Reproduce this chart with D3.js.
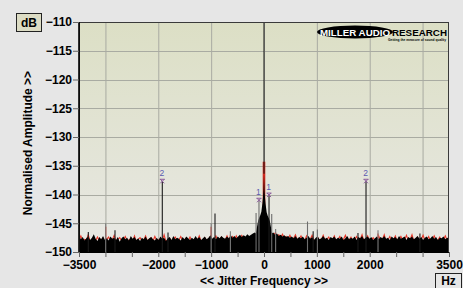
<!DOCTYPE html>
<html><head><meta charset="utf-8">
<script src="https://cdn.jsdelivr.net/npm/d3@7"></script>
<style>
html,body{margin:0;padding:0;background:#e6e6e6;}
svg{display:block;}
text{font-family:"Liberation Sans",Arial,sans-serif;}
</style></head>
<body>
<svg id="c" width="463" height="288"></svg>
<script>
// ---- data ----
const xTicks = [-3500,-3000,-2500,-2000,-1500,-1000,-500,0,500,1000,1500,2000,2500,3000,3500];
const xTickLabels = [-3500,-2000,-1000,0,1000,2000,3500];
const xGrid = [-3000,-2000,-1000,0,1000,2000,3000];
const yTicks = [-110,-115,-120,-125,-130,-135,-140,-145,-150];
const noiseStartHz = -3500, noiseStepHz = 35;
const blackNoise = [
-147.1,-147.8,-147.4,-148.0,-147.6,-147.3,-147.9,-147.5,-146.9,-147.7,-148.1,-147.4,-147.8,-147.2,-147.9,-147.6,-148.0,-147.3,-147.7,-147.5,
-147.9,-147.4,-148.2,-147.6,-147.3,-147.8,-147.5,-148.0,-147.2,-147.7,-147.4,-147.9,-147.6,-148.1,-147.5,-147.8,-147.3,-147.9,-147.6,-147.4,
-147.8,-148.0,-147.5,-147.9,-147.3,-147.7,-147.5,-148.1,-147.6,-147.4,-147.9,-147.2,-147.8,-147.5,-147.7,-148.0,-147.4,-147.8,-147.3,-147.6,
-147.9,-147.5,-147.8,-147.2,-147.7,-147.4,-147.9,-147.6,-147.3,-147.8,-147.5,-147.1,-147.7,-147.4,-147.8,-147.3,-147.6,-147.2,-147.5,-147.7,
-147.3,-147.6,-147.1,-147.5,-147.2,-147.6,-147.3,-147.0,-147.4,-147.1,-147.3,-146.9,-147.2,-147.0,-146.8,-146.6,-146.9,-146.4,-146.0,-145.5,
-145.0,
-145.6,-146.1,-146.5,-146.8,-146.6,-147.0,-146.8,-147.2,-147.0,-147.3,-147.1,-147.4,-147.2,-147.5,-147.3,-147.6,-147.2,-147.7,-147.4,-147.6,
-147.3,-147.8,-147.5,-147.2,-147.7,-147.4,-147.9,-147.5,-147.3,-147.8,-147.6,-147.2,-147.7,-147.5,-147.9,-147.4,-147.6,-147.3,-147.8,-147.5,
-147.7,-147.3,-147.9,-147.6,-147.2,-147.8,-147.5,-147.7,-147.3,-147.9,-147.4,-147.6,-147.2,-147.8,-147.5,-147.3,-147.7,-147.4,-147.9,-147.6,
-147.3,-147.8,-147.4,-147.6,-147.2,-147.7,-147.5,-147.9,-147.3,-147.6,-147.4,-147.8,-147.2,-147.7,-147.5,-147.3,-147.9,-147.4,-147.6,-147.3,
-147.8,-147.5,-147.2,-147.7,-147.4,-147.9,-147.5,-147.3,-147.8,-147.6,-147.2,-147.7,-147.4,-147.9,-147.5,-147.6,-147.3,-147.8,-147.5,-147.6
];
const redNoise = [
-147.9,-147.2,-148.0,-147.8,-147.9,-147.0,-148.1,-147.9,-147.6,-148.0,-147.4,-148.1,-147.9,-147.6,-148.2,-147.8,-147.4,-148.0,-147.9,-147.1,
-148.1,-147.8,-147.5,-148.0,-147.9,-147.3,-148.0,-147.9,-147.7,-148.1,-147.2,-148.2,-147.8,-147.5,-148.0,-147.9,-147.2,-148.1,-147.8,-147.5,
-148.1,-147.3,-148.0,-147.9,-147.7,-148.1,-147.0,-148.2,-147.9,-147.6,-148.1,-147.8,-147.4,-148.0,-147.9,-147.3,-148.0,-147.9,-147.6,-148.1,
-147.4,-148.1,-147.9,-147.6,-148.0,-147.2,-148.1,-147.9,-147.5,-148.0,-147.8,-147.3,-148.0,-147.9,-147.2,-148.0,-147.8,-147.4,-148.0,-147.9,
-147.2,-148.0,-147.8,-147.3,-147.9,-147.2,-147.9,-147.6,-147.1,-147.8,-147.5,-147.3,-147.7,-147.4,-147.1,-147.0,-146.8,-146.6,-146.2,-145.8,
-145.3,
-145.9,-146.2,-146.3,-146.9,-147.0,-146.7,-147.2,-147.0,-147.5,-146.9,-147.6,-147.3,-147.7,-147.1,-147.8,-147.6,-147.0,-147.9,-147.7,-147.2,
-147.9,-148.0,-147.2,-147.9,-147.8,-147.1,-148.0,-147.9,-147.4,-148.1,-147.9,-147.1,-148.0,-147.8,-147.4,-148.0,-147.9,-147.2,-148.1,-147.8,
-147.3,-148.0,-147.8,-147.1,-148.0,-147.9,-147.4,-148.1,-147.9,-147.3,-148.0,-147.8,-147.0,-148.1,-147.9,-147.2,-148.0,-147.9,-147.5,-148.0,
-147.9,-147.2,-148.0,-147.8,-147.0,-148.1,-147.9,-147.3,-148.0,-147.9,-147.2,-148.1,-147.8,-147.3,-148.0,-147.9,-147.1,-148.0,-147.8,-147.0,
-148.1,-147.9,-147.4,-148.0,-147.8,-147.1,-148.0,-147.9,-147.3,-148.1,-147.8,-147.2,-148.0,-147.9,-147.4,-148.1,-147.8,-147.2,-148.0,-147.9
];
const skirtHz = [-170,-150,-130,-110,-90,-70,-50,-30,-20,-10,0,10,20,30,50,70,90,110,130,150,170];
const skirtDb = [-147.3,-146.5,-145.5,-144.5,-144.0,-143.6,-143.0,-141.5,-140.5,-139.0,-136.5,-139.2,-140.6,-141.6,-143.1,-143.7,-144.1,-144.6,-145.6,-146.6,-147.4];
const spikeHz    = [-3324,-2995,-2819,-1924,-1816,-1000,-927,-636,-150,-95,95,146,220,823,930,1010,1778,1930,2157,2950];
const spikeDb    = [-146.5,-145.6,-146.2,-137.7,-146.6,-145.6,-143.3,-147.0,-143.2,-141.0,-140.1,-143.4,-146.6,-144.7,-146.4,-146.1,-146.7,-137.7,-146.8,-146.8];
const spikeTone  = ["k","r","k","k","k","r","k","r","g","g","k","g","r","g","k","g","k","k","r","k"];
const carrierHz = 0, carrierTopDb = -110, carrierRedDb = -134.3;
const markerHz = [-1924,1930,-95,95];
const markerDb = [-137.7,-137.7,-141.0,-140.1];
const markerLabel = ["2","2","1","1"];

// ---- layout ----
const svg = d3.select("#c");
const L=79, R=449, T=22, B=252;
const x = d3.scaleLinear().domain([-3500,3500]).range([L,R]);
const y = d3.scaleLinear().domain([-150,-110]).range([B,T]);

const defs = svg.append("defs");
const g1 = defs.append("linearGradient").attr("id","bg").attr("x1",0).attr("y1",0).attr("x2",0).attr("y2",1);
g1.append("stop").attr("offset","0%").attr("stop-color","#dcdfc5");
g1.append("stop").attr("offset","100%").attr("stop-color","#e8e8e4");
defs.append("clipPath").attr("id","clip").append("rect").attr("x",L).attr("y",T).attr("width",R-L).attr("height",B-T);

svg.append("rect").attr("width",463).attr("height",288).attr("fill","#e6e6e6");
svg.append("rect").attr("x",L).attr("y",T).attr("width",R-L).attr("height",B-T).attr("fill","url(#bg)");

const plot = svg.append("g").attr("clip-path","url(#clip)");
// grid
plot.selectAll(".gx").data(xGrid).join("line")
  .attr("x1",d=>x(d)+0.5).attr("x2",d=>x(d)+0.5).attr("y1",T).attr("y2",B)
  .attr("stroke","#a9aba2").attr("stroke-width",1);
plot.selectAll(".gy").data(yTicks.filter(v=>v>-150&&v<-110)).join("line")
  .attr("x1",L).attr("x2",R).attr("y1",d=>Math.round(y(d))+0.5).attr("y2",d=>Math.round(y(d))+0.5)
  .attr("stroke","#a9aba2").attr("stroke-width",1);

const nf = (i)=>noiseStartHz + i*noiseStepHz;
// red trace
plot.append("path").datum(redNoise)
  .attr("d", d3.line().x((d,i)=>x(nf(i))).y(d=>y(d)))
  .attr("fill","none").attr("stroke","#e8392a").attr("stroke-width",1.1);
// red spikes & center red
const spikes = spikeHz.map((f,i)=>({f,db:spikeDb[i],t:spikeTone[i]}));
plot.selectAll(".rs").data(spikes.filter(s=>s.t==="r")).join("line")
  .attr("x1",d=>x(d.f)).attr("x2",d=>x(d.f)).attr("y1",y(-150)).attr("y2",d=>y(d.db))
  .attr("stroke","#e8392a").attr("stroke-width",1.2);
plot.append("line").attr("x1",x(carrierHz)).attr("x2",x(carrierHz)).attr("y1",y(-150)).attr("y2",y(carrierRedDb))
  .attr("stroke","#d42a20").attr("stroke-width",2.6);
// black noise area
plot.append("path").datum(blackNoise)
  .attr("d", d3.area().x((d,i)=>x(nf(i))).y0(y(-150)+2).y1(d=>y(d)))
  .attr("fill","#000");
// skirt
plot.append("path").datum(skirtHz.map((f,i)=>[f,skirtDb[i]]))
  .attr("d", d3.area().x(d=>x(d[0])).y0(y(-150)+2).y1(d=>y(d[1])))
  .attr("fill","#000");
// spikes
const toneCol = {k:"#1a1a1a", g:"#6e6e6e", r:"#7a7a7a"};
plot.selectAll(".sp").data(spikes).join("line")
  .attr("x1",d=>x(d.f)).attr("x2",d=>x(d.f)).attr("y1",y(-150))
  .attr("y2",d=>y(d.t==="r"? d.db+0.6 : d.db))
  .attr("stroke",d=>toneCol[d.t]).attr("stroke-width",1.1);
// carrier
plot.append("line").attr("x1",x(carrierHz)).attr("x2",x(carrierHz)).attr("y1",y(carrierRedDb)+12).attr("y2",y(carrierTopDb))
  .attr("stroke","#111").attr("stroke-width",1);
// markers
const mk = markerHz.map((f,i)=>({f,db:markerDb[i],l:markerLabel[i]}));
const mg = plot.selectAll(".mk").data(mk).join("g")
  .attr("transform",d=>`translate(${x(d.f)},${y(d.db)})`);
mg.append("path").attr("d","M-2,-2L2,2M-2,2L2,-2M-2.5,-2L2.5,-2")
  .attr("stroke","#8a5a9a").attr("stroke-width",1).attr("fill","none");
mg.append("text").attr("x",-0.5).attr("y",-5).attr("text-anchor","middle")
  .attr("font-size",8.5).attr("fill","#5a5ab0").text(d=>d.l);

// border
svg.append("rect").attr("x",L+0.5).attr("y",T+0.5).attr("width",R-L-1).attr("height",B-T)
  .attr("fill","none").attr("stroke","#3a3a3a").attr("stroke-width",1);
svg.append("line").attr("x1",L).attr("x2",L).attr("y1",T).attr("y2",B+1).attr("stroke","#000").attr("stroke-width",1.6);
svg.append("line").attr("x1",L).attr("x2",R).attr("y1",B+0.5).attr("y2",B+0.5).attr("stroke","#000").attr("stroke-width",1);

// axes
const ya = svg.append("g").attr("transform",`translate(${L},0)`)
  .call(d3.axisLeft(y).tickValues(yTicks).tickSize(6).tickPadding(1).tickFormat(d3.format("d")));
ya.select(".domain").remove();
ya.selectAll("line").attr("stroke","#666");
ya.selectAll("text").attr("font-size",12).attr("font-weight","bold").attr("fill","#000")
  .attr("font-family","'Liberation Sans',Arial,sans-serif");

const xa = svg.append("g").attr("transform",`translate(0,${B})`)
  .call(d3.axisBottom(x).tickValues(xTicks).tickSize(5).tickPadding(3)
    .tickFormat(d=>xTickLabels.includes(d)? d3.format("d")(d) : ""));
xa.select(".domain").remove();
xa.selectAll("line").attr("stroke","#666");
xa.selectAll("text").attr("font-size",12).attr("font-weight","bold").attr("fill","#000")
  .attr("font-family","'Liberation Sans',Arial,sans-serif");

// labels
svg.append("text").attr("transform","translate(32,143) rotate(-90)").attr("text-anchor","middle")
  .attr("font-size",12).attr("font-weight","bold").text("Normalised Amplitude >>");
svg.append("text").attr("x",264).attr("y",285).attr("text-anchor","middle")
  .attr("font-size",12).attr("font-weight","bold").text("<< Jitter Frequency >>");

svg.append("rect").attr("x",16.5).attr("y",13.5).attr("width",25).attr("height",18)
  .attr("fill","#dcdcc4").attr("stroke","#222").attr("stroke-width",1);
svg.append("text").attr("x",29).attr("y",27).attr("text-anchor","middle")
  .attr("font-size",12).attr("font-weight","bold").text("dB");
svg.append("rect").attr("x",435.5).attr("y",273.5).attr("width",26).attr("height",18)
  .attr("fill","#e6e6e6").attr("stroke","#222").attr("stroke-width",1);
svg.append("text").attr("x",448.5).attr("y",285).attr("text-anchor","middle")
  .attr("font-size",12).attr("font-weight","bold").text("Hz");

// logo
svg.append("ellipse").attr("cx",355).attr("cy",32).attr("rx",38).attr("ry",6.5).attr("fill","#000");
svg.append("text").attr("x",320).attr("y",35.5).attr("font-size",9).attr("font-weight","bold")
  .attr("fill","#fff").attr("textLength",70).attr("lengthAdjust","spacingAndGlyphs").text("MILLER AUDIO");
svg.append("text").attr("x",392).attr("y",35.5).attr("font-size",9.5).attr("font-weight","bold")
  .attr("fill","#000").attr("textLength",55).attr("lengthAdjust","spacingAndGlyphs").text("RESEARCH");
svg.append("text").attr("x",388).attr("y",40.5).attr("font-size",3.6).attr("font-weight","bold")
  .attr("fill","#000").attr("textLength",58).attr("lengthAdjust","spacingAndGlyphs").text("Getting the measure of sound quality");
</script>
</body></html>
